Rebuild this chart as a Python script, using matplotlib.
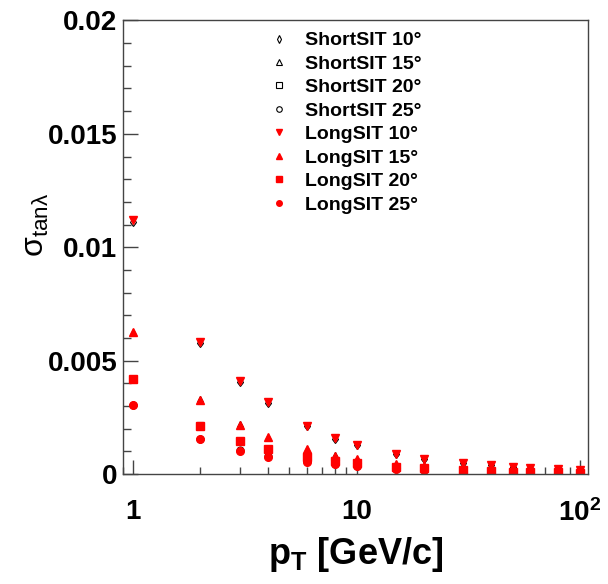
import matplotlib
matplotlib.use('Agg')
import matplotlib.pyplot as plt
import matplotlib.ticker as mticker
from matplotlib.lines import Line2D

plt.rcParams['font.family'] = ['Liberation Sans', 'DejaVu Sans']
plt.rcParams['font.weight'] = 'bold'
plt.rcParams['mathtext.fontset'] = 'custom'
plt.rcParams['mathtext.rm'] = 'Liberation Sans:bold'
plt.rcParams['mathtext.it'] = 'Liberation Sans:bold'
plt.rcParams['mathtext.bf'] = 'Liberation Sans:bold'

pt = [1, 2, 3, 4, 6, 8, 10, 15, 20, 30, 40, 50, 60, 80, 100]

long10 = [0.01118, 0.00584, 0.00410, 0.00316, 0.00213, 0.00158, 0.00128, 0.00088,
          0.00066, 0.00050, 0.00040, 0.00030, 0.00025, 0.00020, 0.00018]
long15 = [0.00624, 0.00327, 0.00216, 0.00162, 0.00109, 0.00080, 0.00065, 0.00045,
          0.00035, 0.00025, 0.00020, 0.00017, 0.00014, 0.00011, 0.00010]
long20 = [0.00418, 0.00212, 0.00144, 0.00109, 0.00075, 0.00058, 0.00047, 0.00032,
          0.00025, 0.00017, 0.00013, 0.00010, 0.00009, 0.00007, 0.00006]
long25 = [0.00304, 0.00154, 0.00103, 0.00076, 0.00055, 0.00042, 0.00034, 0.00023,
          0.00018, 0.00012, 0.00009, 0.00007, 0.00006, 0.00005, 0.00004]

short10 = [0.01112, 0.00578, 0.00405, 0.00312, 0.00210, 0.00155, 0.00126, 0.00087,
           0.00065, 0.00049, 0.00039, 0.00030, 0.00025, 0.00020, 0.00018]
short15 = [0.00628, 0.00330, 0.00219, 0.00164, 0.00111, 0.00082, 0.00066, 0.00046,
           0.00035, 0.00025, 0.00020, 0.00017, 0.00014, 0.00011, 0.00010]
short20 = [0.00420, 0.00214, 0.00146, 0.00111, 0.00076, 0.00059, 0.00048, 0.00032,
           0.00025, 0.00017, 0.00013, 0.00010, 0.00009, 0.00007, 0.00006]
short25 = [0.00306, 0.00156, 0.00105, 0.00078, 0.00056, 0.00043, 0.00035, 0.00023,
           0.00018, 0.00012, 0.00009, 0.00007, 0.00006, 0.00005, 0.00004]

angles = [10, 15, 20, 25]

fig = plt.figure(figsize=(6.08, 5.84), dpi=100)
ax = fig.add_axes([0.2023, 0.1884, 0.7648, 0.7766])

short_markers = ['d', '^', 's', 'o']
long_markers = ['v', '^', 's', 'o']
short_sets = [short10, short15, short20, short25]
long_sets = [long10, long15, long20, long25]

handles = []
for a, m, ys in zip(angles, short_markers, short_sets):
    ax.plot(pt, ys, linestyle='none', marker=m, markersize=5 if m != 'd' else 4.5,
            markerfacecolor='none', markeredgecolor='black', markeredgewidth=0.8)
    handles.append(Line2D([], [], linestyle='none', marker=m, markersize=4,
                          markerfacecolor='none', markeredgecolor='black',
                          markeredgewidth=0.8, label='ShortSIT %d°' % a))
for a, m, ys in zip(angles, long_markers, long_sets):
    ax.plot(pt, ys, linestyle='none', marker=m, markersize=5.5,
            color='red', markeredgecolor='red')
    handles.append(Line2D([], [], linestyle='none', marker=m, markersize=4,
                          color='red', label='LongSIT %d°' % a))

ax.set_xscale('log')
ax.set_xlim(0.9, 108.6)
ax.set_ylim(0, 0.02)

ax.xaxis.set_major_locator(mticker.FixedLocator([1, 10, 100]))
ax.xaxis.set_major_formatter(mticker.FixedFormatter(['1', '10', '$\\mathregular{10^2}$']))
ax.xaxis.set_minor_locator(mticker.LogLocator(base=10, subs=range(2, 10)))
ax.xaxis.set_minor_formatter(mticker.NullFormatter())
ax.yaxis.set_major_locator(mticker.FixedLocator([0, 0.005, 0.01, 0.015, 0.02]))
ax.yaxis.set_major_formatter(mticker.FixedFormatter(['0', '0.005', '0.01', '0.015', '0.02']))
ax.yaxis.set_minor_locator(mticker.MultipleLocator(0.001))

ax.tick_params(axis='both', which='both', direction='in', colors='#444444',
               labelcolor='black', top=False, right=False)
ax.tick_params(axis='x', which='major', length=10, width=1, labelsize=20, pad=18)
ax.tick_params(axis='x', which='minor', length=5, width=1)
ax.tick_params(axis='y', which='major', length=11, width=1, labelsize=20, pad=4)
ax.tick_params(axis='y', which='minor', length=6, width=1)
for s in ax.spines.values():
    s.set_color('#444444')
    s.set_linewidth(1)

ax.set_xlabel('$\\mathregular{p_T}$ [GeV/c]', fontsize=26, fontweight='bold')
ax.xaxis.set_label_coords(0.5, -0.135)
ax.set_ylabel('$\\mathregular{\\sigma_{tan\\lambda}}$', fontsize=23)
ax.yaxis.set_label_coords(-0.155, 0.55)

ax.legend(handles=handles, loc='upper left', bbox_to_anchor=(0.285, 1.005), frameon=False,
          fontsize=14, handlelength=1.0, handletextpad=0.85, labelspacing=0.30,
          borderpad=0.2)

fig.savefig('out.png', dpi=100)
